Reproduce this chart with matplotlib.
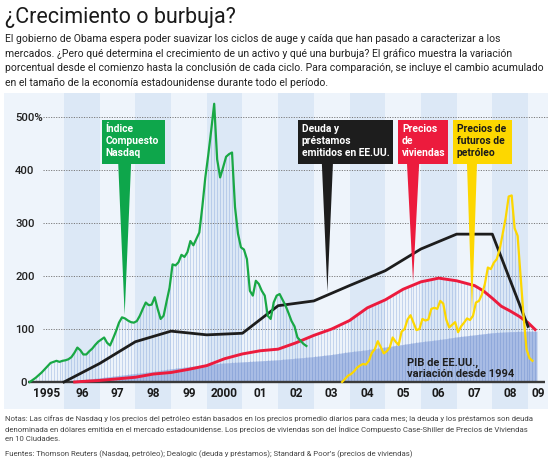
import numpy as np
import matplotlib.pyplot as plt
from matplotlib.patches import Rectangle, Polygon

plt.rcParams['font.family'] = ['Roboto', 'DejaVu Sans']

# ---- data (percent change from start of each cycle) ----
nasdaq = [0, 4, 8, 13, 18, 24, 30, 36, 38, 40, 38, 40,              # 1995
          41, 43, 47, 55, 65, 60, 52, 52, 58, 63, 70, 76,           # 1996
          80, 84, 74, 69, 82, 96, 112, 122, 120, 116, 113, 112,     # 1997
          115, 125, 138, 150, 145, 146, 160, 138, 119, 125, 152, 178,  # 1998
          222, 220, 226, 240, 236, 245, 266, 258, 270, 282, 330, 385,  # 1999
          428, 475, 525, 420, 386, 405, 425, 430, 433, 330, 280, 254,  # 2000
          250, 232, 172, 163, 191, 185, 172, 163, 125, 119, 150, 163,  # 2001
          166, 155, 144, 130, 115, 105, 84, 78, 72, 68]               # 2002
nasdaq_start = 1995

debt_years = [1996, 1997, 1998, 1999, 2000, 2001, 2002, 2003, 2004, 2005,
              2006, 2007, 2008, 2009]
debt = [0, 35, 76, 96, 89, 92, 144, 153, 182, 210, 251, 279, 279, 105]

house_years = [1996.3, 1996.5, 1997.0, 1997.5, 1998.0, 1998.5, 1999.0, 1999.5,
               2000.0, 2000.5, 2001.0, 2001.5, 2002.0, 2002.5, 2003.0, 2003.5,
               2004.0, 2004.5, 2005.0, 2005.5, 2006.0, 2006.5, 2007.0, 2007.5,
               2007.75, 2008.0, 2008.25, 2008.5, 2008.75, 2009.0, 2009.2]
house = [0, 1, 3, 6, 9, 15, 18, 24, 31, 44, 53, 59, 62, 74, 88, 100,
         116, 140, 155, 175, 189, 196, 191, 182, 172, 158, 143, 134, 124, 112, 99]

oil = [0, 6, 12,                                                   # 2003 Oct-Dec
       15, 20, 27, 31, 34, 33, 40, 55, 62, 77, 66, 54,              # 2004
       58, 65, 84, 76, 70, 95, 100, 118, 126, 112, 98, 100,         # 2005
       119, 116, 118, 138, 140, 138, 153, 148, 118, 103, 108, 113,  # 2006
       94, 105, 112, 120, 117, 125, 150, 153, 165, 185, 216, 213,   # 2007
       225, 232, 251, 280, 310, 350, 352, 290, 276, 200, 125, 62,   # 2008
       45, 40]                                                      # 2009
oil_start = 2003 + 9 / 12

gdp_years = [1996.0, 1996.5, 1997.0, 1997.5, 1998.0, 1998.5, 1999.0, 1999.5,
             2000.0, 2000.5, 2001.0, 2001.5, 2002.0, 2002.5, 2003.0, 2003.5,
             2004.0, 2004.5, 2005.0, 2005.5, 2006.0, 2006.5, 2007.0, 2007.5,
             2008.0, 2008.5, 2009.0, 2009.25]
gdp = [0, 4, 8, 12, 16, 20, 25, 29, 33, 36, 38, 40, 42, 45, 48, 52,
       57, 61, 66, 71, 76, 80, 85, 89, 93, 95, 96, 96]

year_labels = ['1995', '96', '97', '98', '99', '2000', '01', '02', '03',
               '04', '05', '06', '07', '08', '09']
y_ticks = [0, 100, 200, 300, 400, 500]

nasdaq_x = nasdaq_start + (np.arange(len(nasdaq)) + 0.5) / 12
oil_x = oil_start + (np.arange(len(oil)) + 0.5) / 12

# ---- colours ----
GREEN = '#0ea64b'
RED = '#ec1b3d'
YELLOW = '#fdd700'
BLACK = '#1d1d1d'
LIGHT = '#eef4fb'
DARK = '#dce8f6'

fig = plt.figure(figsize=(5.55, 4.6), dpi=100)
ax = fig.add_axes([4 / 555, 1 - 410 / 460, 544 / 555, 316 / 460])
ax.set_xlim(1994.32, 2009.56)
ax.set_ylim(-50.9, 545.3)
ax.axis('off')

# background and year bands
ax.add_patch(Rectangle((0, 0), 1, 1, transform=ax.transAxes, color=LIGHT, zorder=0))
for yr in range(1996, 2009, 2):
    ax.axvspan(yr, yr + 1, color=DARK, zorder=0.5, lw=0)

# monthly hatch under the curves
hx = np.arange(1995 + 0.5 / 12, 2009.25, 1 / 12)
tops = []
for x in hx:
    vals = []
    if nasdaq_x[0] <= x <= nasdaq_x[-1]:
        vals.append(np.interp(x, nasdaq_x, nasdaq))
    if house_years[0] <= x <= house_years[-1]:
        vals.append(np.interp(x, house_years, house))
    if oil_x[0] <= x <= oil_x[-1]:
        vals.append(np.interp(x, oil_x, oil))
    tops.append(max(vals) if vals else 0)
ax.vlines(hx, 0, tops, color='#7093d2', alpha=0.33, lw=0.75, zorder=1)

# GDP area
ax.fill_between(gdp_years, 0, gdp, color='#a9bde5', lw=0, zorder=1.5)
gx = hx[(hx >= gdp_years[0]) & (hx <= gdp_years[-1])]
ax.vlines(gx, 0, np.interp(gx, gdp_years, gdp), color='#7d9ad4', alpha=0.55,
          lw=0.75, zorder=1.6)

# grid and axis
for v in y_ticks[1:]:
    ax.plot([1995.41, 2009.56], [v, v], color='#7a7a7a', lw=0.7,
            ls=(0, (1.2, 1.4)), zorder=2)
ax.plot([1995.0, 2009.47], [0, 0], color='#3a3a3a', lw=1.7, zorder=3,
        solid_capstyle='butt')

# series
ax.plot(house_years, house, color=RED, lw=2.1, zorder=4)
ax.plot(debt_years, debt, color=BLACK, lw=2.0, zorder=4.2)
ax.plot(nasdaq_x, nasdaq, color='#19a845', lw=1.6, zorder=4.4)
ax.plot(oil_x, oil, color=YELLOW, lw=1.6, zorder=4.6)

# y labels
for v in y_ticks:
    txt = '500%' if v == 500 else str(v)
    if v == 0:
        ax.text(1994.97, v, txt, ha='right', va='center', fontsize=8.2,
                color='#222222', fontweight='medium')
    else:
        ax.text(1994.63, v, txt, ha='left', va='center', fontsize=8.2,
                color='#222222', fontweight='medium')

# year labels
for i, lab in enumerate(year_labels):
    x = 1995 + i + 0.5
    if lab == '09':
        x = 2009.28
    ax.text(x, -20, lab, ha='center', va='center', fontsize=8.6,
            color='#1a1a1a', fontweight='bold')

ax.text(2005.61, 8, 'PIB de EE.UU.,\nvariación desde 1994', ha='left',
        va='bottom', fontsize=8.0, fontweight='bold', color='#1f1f1f',
        linespacing=1.15, zorder=5)


def callout(x0, x1, color, text, tcolor, tip_x, series_x, series_y, half_w):
    top, bottom = 494, 411
    tip_y = np.interp(tip_x, series_x, series_y) + 6
    ax.add_patch(Rectangle((x0, bottom), x1 - x0, top - bottom, color=color,
                           lw=0, zorder=6))
    ax.add_patch(Polygon([(tip_x - half_w, bottom + 1), (tip_x + half_w, bottom + 1),
                          (tip_x, tip_y)], closed=True, color=color, lw=0,
                         zorder=6))
    ax.text(x0 + 0.11, top - 5, text, ha='left', va='top', fontsize=7.4,
            fontweight='bold', color=tcolor, linespacing=1.25, zorder=7)


callout(1997.06, 1998.83, GREEN, 'Índice\nCompuesto\nNasdaq', 'white',
        1997.70, nasdaq_x, nasdaq, 0.18)
callout(2002.55, 2005.22, BLACK, 'Deuda y\npréstamos\nemitidos en EE.UU.',
        'white', 2003.38, debt_years, debt, 0.155)
callout(2005.36, 2006.76, RED, 'Precios\nde\nviviendas', 'white',
        2005.78, house_years, house, 0.17)
callout(2006.90, 2008.55, YELLOW, 'Precios de\nfuturos de\npetróleo',
        '#1a1a1a', 2007.43, oil_x, oil, 0.14)

# header text
fig.text(5 / 555, 1 - 18 / 460, '¿Crecimiento o burbuja?', fontsize=15.5,
         color='#1a1a1a', va='center', ha='left')
fig.text(5 / 555, 1 - 34 / 460,
         'El gobierno de Obama espera poder suavizar los ciclos de auge y caída que han pasado a caracterizar a los\n'
         'mercados. ¿Pero qué determina el crecimiento de un activo y qué una burbuja? El gráfico muestra la variación\n'
         'porcentual desde el comienzo hasta la conclusión de cada ciclo. Para comparación, se incluye el cambio acumulado\n'
         'en el tamaño de la economía estadounidense durante todo el período.',
         fontsize=7.5, color='#222222', va='top', ha='left', linespacing=1.5)

fig.text(5 / 555, 1 - 415 / 460,
         'Notas: Las cifras de Nasdaq y los precios del petróleo están basados en los precios promedio diarios para cada mes; la deuda y los préstamos son deuda\n'
         'denominada en dólares emitida en el mercado estadounidense. Los precios de viviendas son del Índice Compuesto Case-Shiller de Precios de Viviendas\n'
         'en 10 Ciudades.',
         fontsize=5.6, color='#444444', va='top', ha='left', linespacing=1.6)
fig.text(5 / 555, 1 - 454 / 460,
         'Fuentes: Thomson Reuters (Nasdaq, petróleo); Dealogic (deuda y préstamos); Standard & Poor’s (precios de viviendas)',
         fontsize=5.6, color='#444444', va='center', ha='left')

fig.savefig('out.png', dpi=100)
